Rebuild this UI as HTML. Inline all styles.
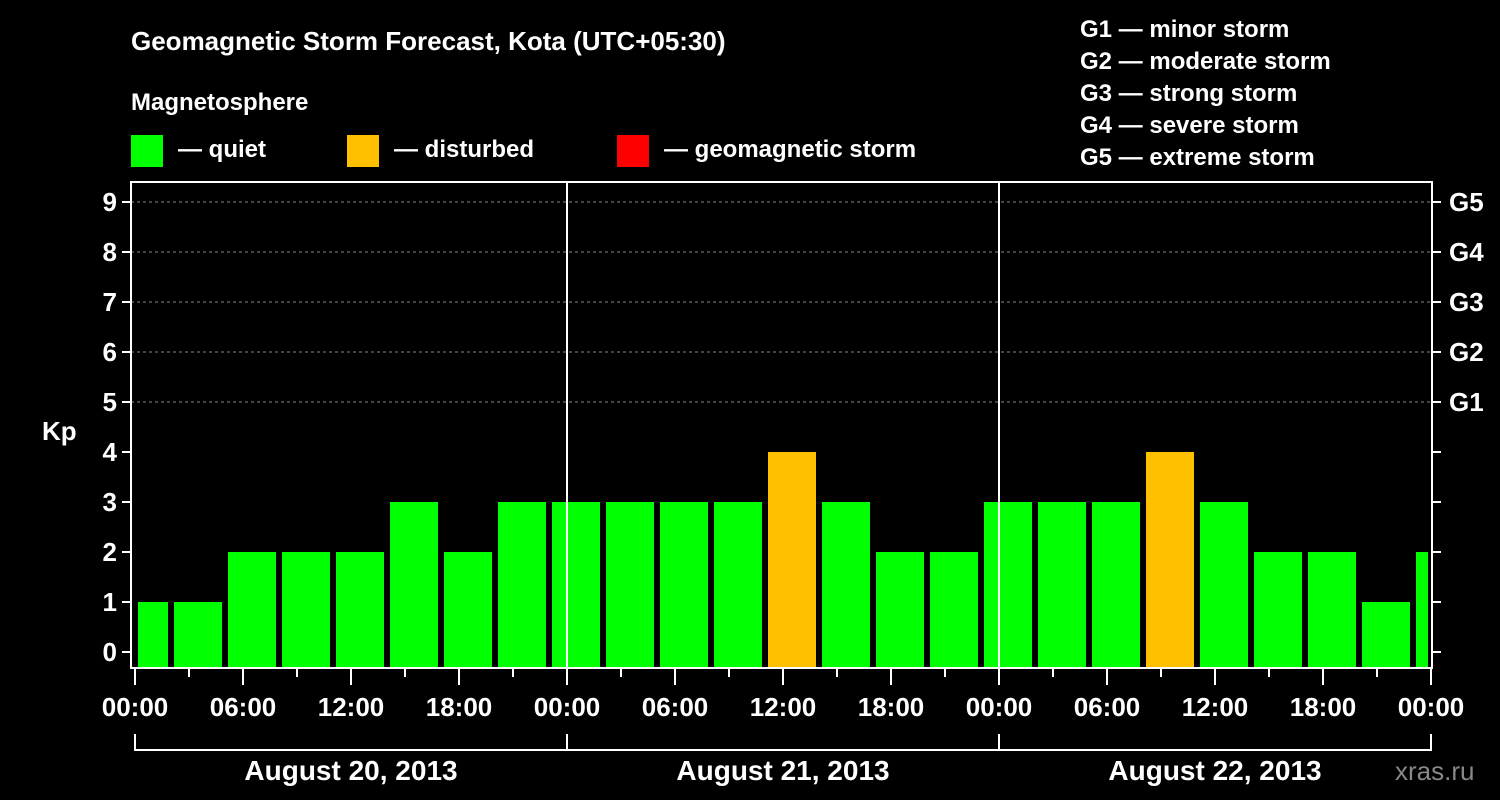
<!DOCTYPE html>
<html><head><meta charset="utf-8"><style>
body{margin:0;background:#000;}
svg{display:block;font-family:"Liberation Sans",Arial,sans-serif;font-weight:bold;}
</style></head><body>
<svg id="c" width="1500" height="800" viewBox="0 0 1500 800">
<rect width="1500" height="800" fill="#000"/>
<text x="131" y="50" fill="#fff" font-size="26">Geomagnetic Storm Forecast, Kota (UTC+05:30)</text>
<text x="131" y="110" fill="#fff" font-size="24">Magnetosphere</text>
<g><rect x="131" y="135" width="32" height="32" fill="#00ff00"/><text x="178" y="157" fill="#fff" font-size="24">— quiet</text></g>
<g><rect x="347" y="135" width="32" height="32" fill="#ffc000"/><text x="394" y="157" fill="#fff" font-size="24">— disturbed</text></g>
<g><rect x="617" y="135" width="32" height="32" fill="#ff0000"/><text x="664" y="157" fill="#fff" font-size="24">— geomagnetic storm</text></g>
<g fill="#fff" font-size="24">
<text x="1080" y="37">G1 — minor storm</text><text x="1080" y="69">G2 — moderate storm</text><text x="1080" y="101">G3 — strong storm</text><text x="1080" y="133">G4 — severe storm</text><text x="1080" y="165">G5 — extreme storm</text></g>
<text x="42" y="440" fill="#fff" font-size="26">Kp</text>
<text x="1395" y="780" fill="#888" font-size="26" font-weight="normal">xras.ru</text>
<g id="plot"></g>
</svg>
<script>
const kpValues=[1,1,2,2,2,3,2,3,3,3,3,3,4,3,2,2,3,3,3,4,3,2,2,1,2];
const barStartHours=[0,2,5,8,11,14,17,20,23,26,29,32,35,38,41,44,47,50,53,56,59,62,65,68,71];
const barEndHours=[2,5,8,11,14,17,20,23,26,29,32,35,38,41,44,47,50,53,56,59,62,65,68,71,72];
const yTicks=[0,1,2,3,4,5,6,7,8,9];
const gLabels=["G1","G2","G3","G4","G5"];
const timeLabels=["00:00","06:00","12:00","18:00","00:00","06:00","12:00","18:00","00:00","06:00","12:00","18:00","00:00"];
const dayLabels=["August 20, 2013","August 21, 2013","August 22, 2013"];
const NS="http://www.w3.org/2000/svg";
const g=document.getElementById('plot');
const X=h=>135+h*18, Y=k=>652-k*50;
function mk(t,a,p){const e=document.createElementNS(NS,t);for(const k in a)e.setAttribute(k,a[k]);(p||g).appendChild(e);return e;}
// grid
yTicks.forEach(k=>{if(k>=5){const l=mk('line',{x1:131,x2:1432,y1:Y(k),y2:Y(k),stroke:'#888','stroke-dasharray':'3,3','stroke-width':1});

}});
// bars
kpValues.forEach((v,i)=>{const x1=Math.max(X(barStartHours[i])+3,136),x2=Math.min(X(barEndHours[i])-3,1428);
const c=v>=5?'#ff0000':(v>=4?'#ffc000':'#00ff00');
const r=mk('rect',{x:x1,y:Y(v),width:x2-x1,height:667-Y(v),fill:c});

});
// day separators
[24,48].forEach(h=>{const l=mk('line',{x1:X(h),x2:X(h),y1:182,y2:668,stroke:'#fff','stroke-width':2});

});
// frame
const f=mk('rect',{x:131,y:182,width:1301,height:486,fill:'none',stroke:'#fff','stroke-width':2});


// y ticks
yTicks.forEach(k=>{mk('line',{x1:122,x2:131,y1:Y(k),y2:Y(k),stroke:'#fff','stroke-width':2});
mk('line',{x1:1432,x2:1441,y1:Y(k),y2:Y(k),stroke:'#fff','stroke-width':2});
const t=mk('text',{x:117,y:Y(k)+9,fill:'#fff','font-size':26,'text-anchor':'end'});t.textContent=k;

});
gLabels.forEach((s,i)=>{const t=mk('text',{x:1449,y:Y(5+i)+9,fill:'#fff','font-size':26});t.textContent=s;

});
// x ticks
for(let h=0;h<=72;h+=3){const maj=h%6===0;mk('line',{x1:X(h),x2:X(h),y1:668,y2:maj?685:677,stroke:'#fff','stroke-width':2});}
timeLabels.forEach((s,i)=>{const t=mk('text',{x:X(i*6),y:716,fill:'#fff','font-size':26,'text-anchor':'middle'});t.textContent=s;

});
// day brackets
mk('path',{d:`M${X(0)},734V750H${X(72)}V734M${X(24)},734V750M${X(48)},734V750`,stroke:'#fff','stroke-width':2,fill:'none'});
dayLabels.forEach((s,i)=>{const t=mk('text',{x:X(i*24+12),y:780,fill:'#fff','font-size':28,'text-anchor':'middle'});t.textContent=s;

});
</script>
</body></html>
